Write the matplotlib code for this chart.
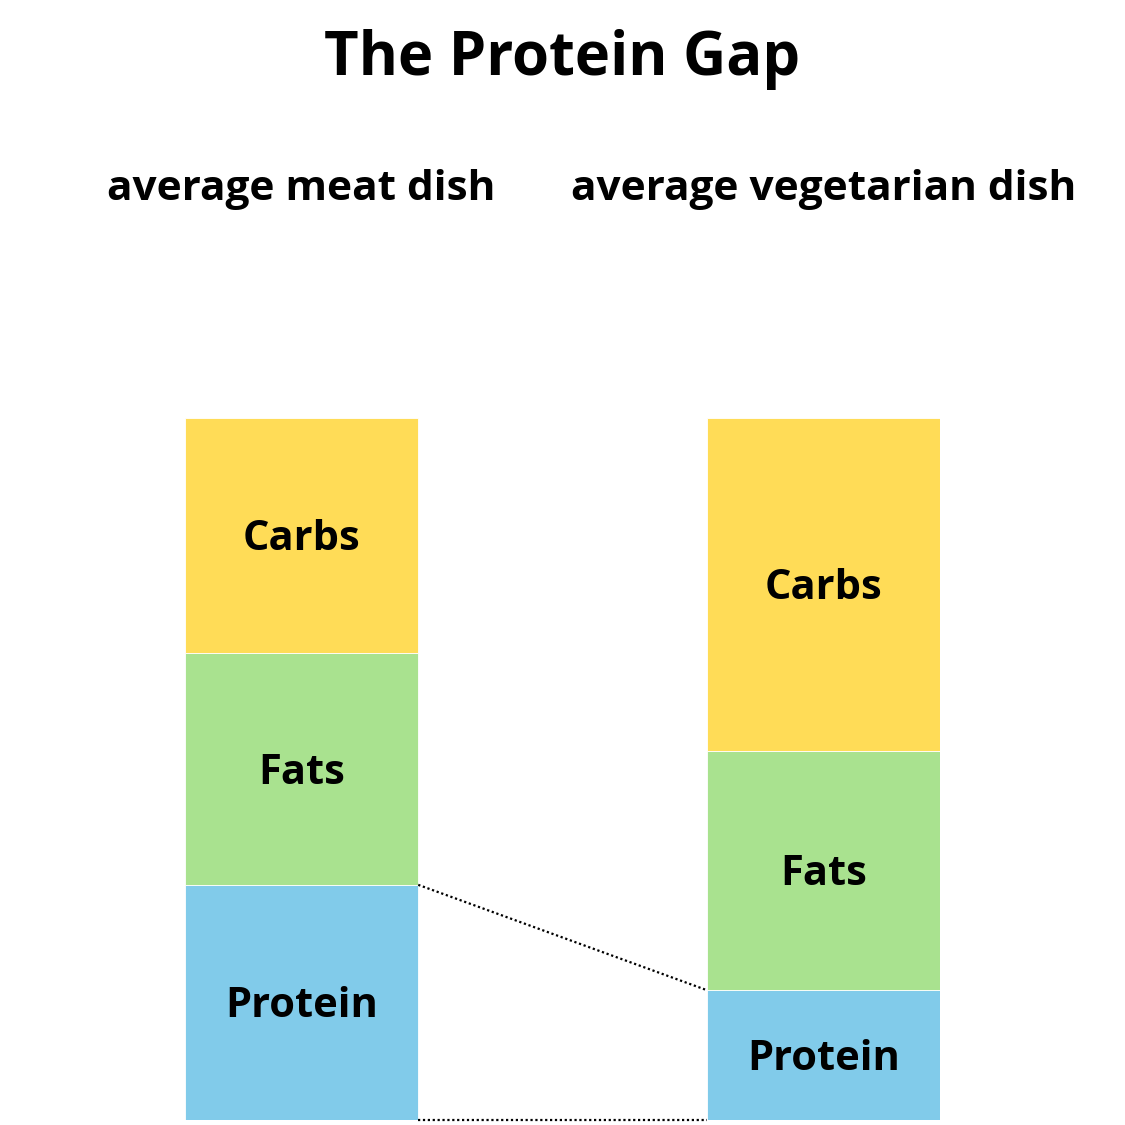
#!/usr/bin/env python3
# plot.py - the protein gap, stacked bars

import matplotlib
matplotlib.use("Agg")
import matplotlib.pyplot as plt
import matplotlib.transforms as mtransforms

plt.rcParams['font.family'] = ['Open Sans', 'DejaVu Sans']

dishes = ["average meat dish", "average vegetarian dish"]
nutrients = ["Protein", "Fats", "Carbs"]
# share of each dish (percent), bottom to top
protein = [33.5, 18.5]
fats = [33.0, 34.0]
carbs = [33.5, 47.5]

colors = {"Protein": "#81CBEA", "Fats": "#A9E28F", "Carbs": "#FFDC57"}


def main():
    fig = plt.figure(figsize=(11.25, 11.25), dpi=100)
    ax = fig.add_axes([185 / 1125, 5 / 1125, 755 / 1125, 702 / 1125])

    width = 0.447
    xs = list(range(len(dishes)))
    bottoms = [0.0] * len(dishes)
    for name, vals in zip(nutrients, [protein, fats, carbs]):
        ax.bar(xs, vals, width=width, bottom=bottoms, color=colors[name],
               edgecolor="white", linewidth=0.6)
        for x, b, v in zip(xs, bottoms, vals):
            ax.annotate(name, (x, b + v / 2), xytext=(0, -3),
                        textcoords="offset points", ha="center", va="center",
                        fontsize=30, fontweight="bold", color="black")
        bottoms = [b + v for b, v in zip(bottoms, vals)]

    # dotted connectors between the protein segments
    ax.plot([xs[0] + width / 2, xs[1] - width / 2], [protein[0], protein[1]],
            color="black", linestyle=(0, (1, 1.2)), linewidth=1.6)
    ax.plot([xs[0] + width / 2, xs[1] - width / 2], [0, 0],
            color="black", linestyle=(0, (1, 1.2)), linewidth=1.6, clip_on=False)

    ax.set_xlim(-width / 2, 1 + width / 2)
    ax.set_ylim(0, 100)
    ax.axis("off")

    # dish headers above each bar
    trans = mtransforms.blended_transform_factory(ax.transData, fig.transFigure)
    for x, d in zip(xs, dishes):
        ax.text(x, 1 - 190 / 1125, d, transform=trans, ha="center", va="center",
                fontsize=30.5, fontweight="bold", color="black")

    fig.text(0.5, 1 - 59 / 1125, "The Protein Gap", ha="center", va="center",
             fontsize=43, fontweight="bold", color="black")

    fig.savefig("out.png", dpi=100, facecolor="white")


if __name__ == "__main__":
    main()
